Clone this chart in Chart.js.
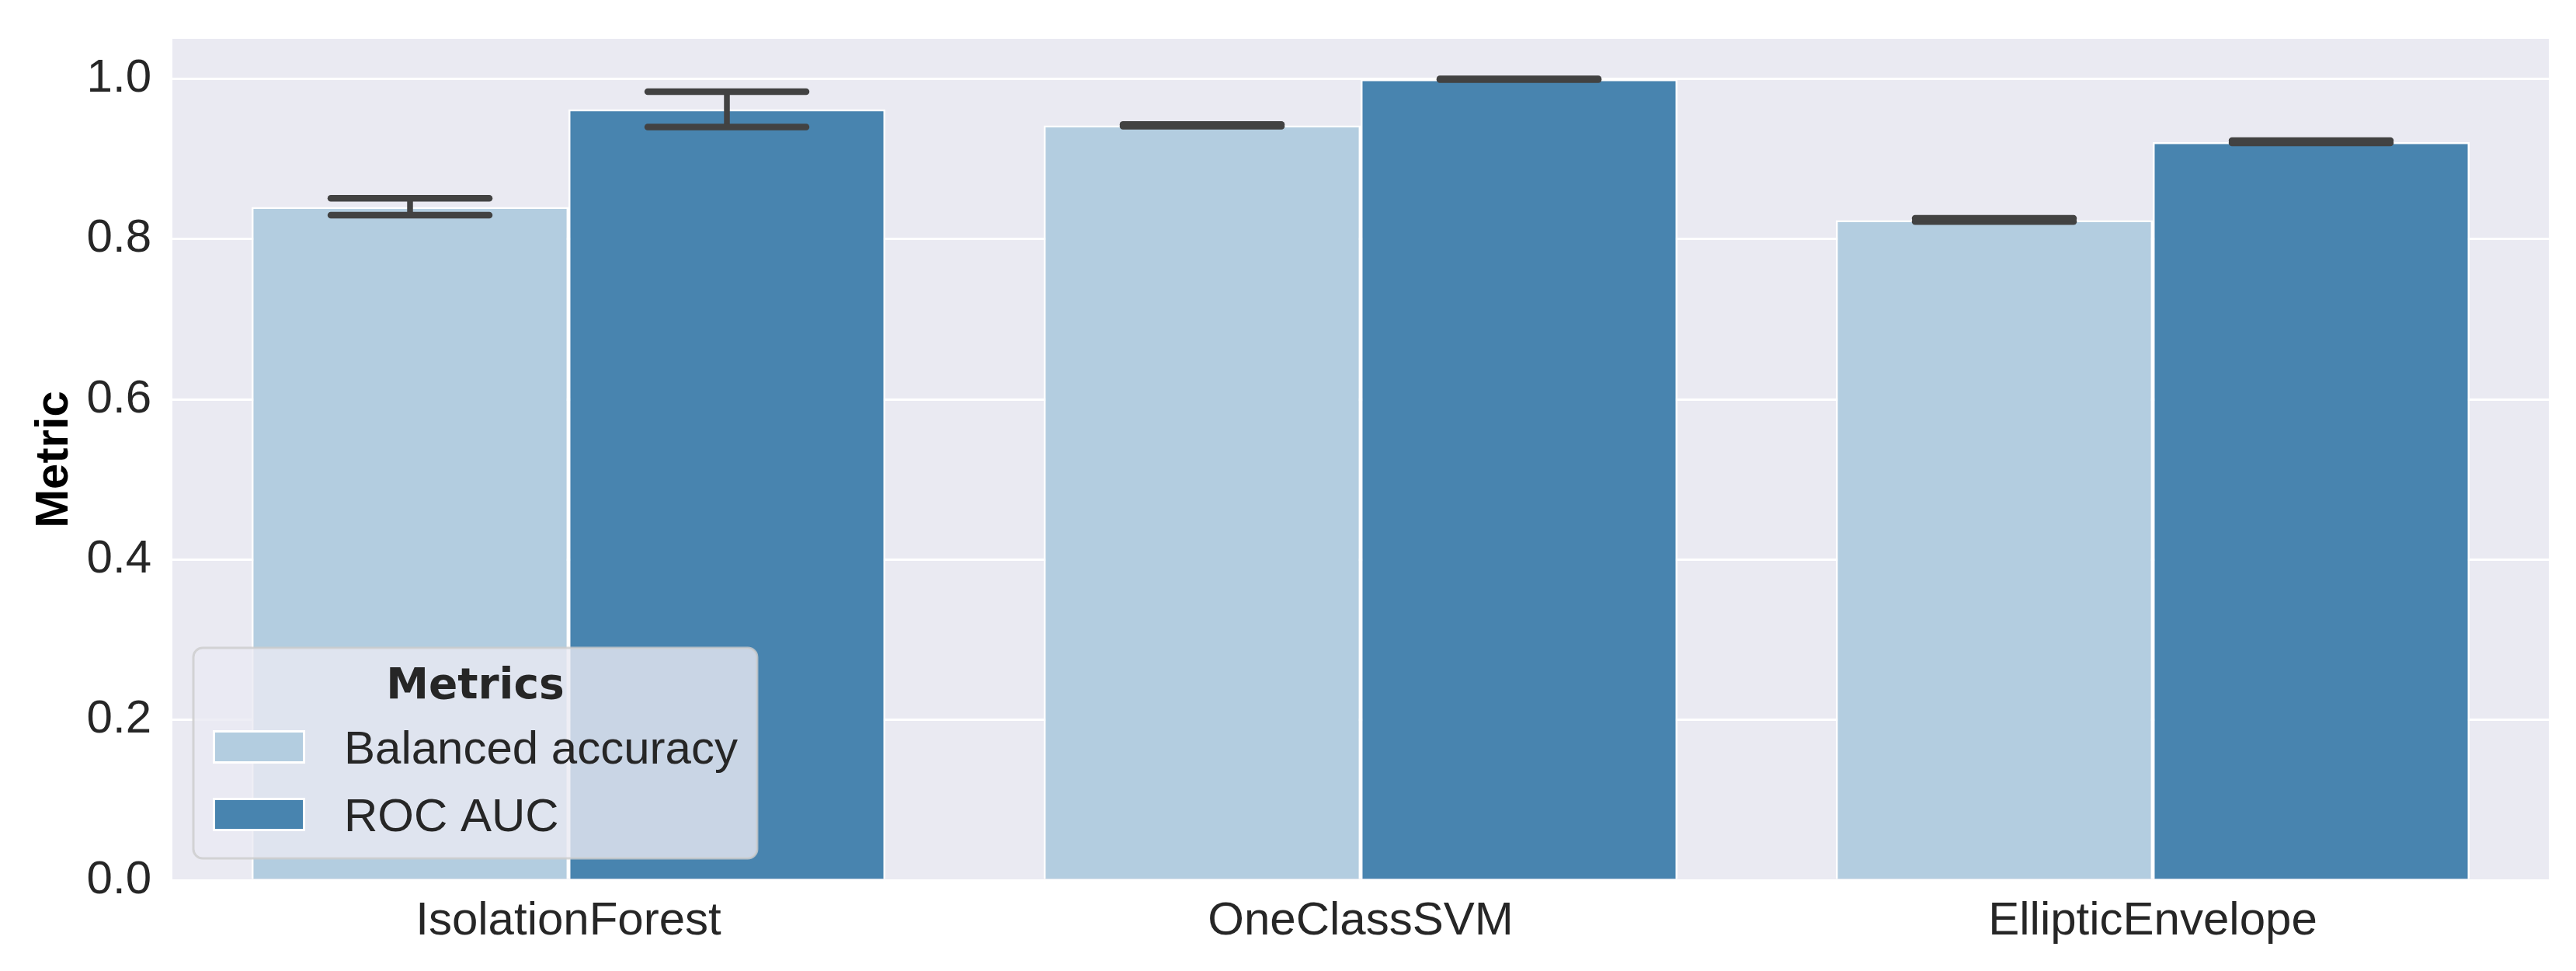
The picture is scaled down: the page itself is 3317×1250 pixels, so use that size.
<!DOCTYPE html>
<html>
<head>
<meta charset="utf-8">
<script src="https://cdn.jsdelivr.net/npm/chart.js@4.4.1/dist/chart.umd.min.js"></script>
<style>
  html, body { margin: 0; padding: 0; background: #ffffff; }
  #wrap { width: 3317px; height: 1250px; }
</style>
</head>
<body>
<div id="wrap"><canvas id="c" width="3317" height="1250"></canvas></div>
<script>
// ---- data ----
const categories = ['IsolationForest', 'OneClassSVM', 'EllipticEnvelope'];
const seriesNames = ['Balanced accuracy', 'ROC AUC'];
const balancedAccuracy = [0.840, 0.942, 0.8235];
const balancedAccuracyLow = [0.830, 0.941, 0.822];
const balancedAccuracyHigh = [0.851, 0.943, 0.826];
const rocAuc = [0.962, 0.9995, 0.921];
const rocAucLow = [0.940, 0.999, 0.920];
const rocAucHigh = [0.984, 1.000, 0.923];
const yTicks = [0.0, 0.2, 0.4, 0.6, 0.8, 1.0];
const yAxisTitle = 'Metric';
const legendTitle = 'Metrics';

const errLow = [balancedAccuracyLow, rocAucLow];
const errHigh = [balancedAccuracyHigh, rocAucHigh];

const plotBg = {
  id: 'plotBg',
  beforeDraw(chart) {
    const a = chart.chartArea, ctx = chart.ctx;
    ctx.save();
    ctx.fillStyle = '#EAEAF2';
    ctx.fillRect(a.left, a.top, a.right - a.left, a.bottom - a.top);
    ctx.restore();
  }
};

const errorBars = {
  id: 'errorBars',
  afterDatasetsDraw(chart) {
    const ctx = chart.ctx, ys = chart.scales.y;
    ctx.save();
    ctx.strokeStyle = '#424242';
    chart.data.datasets.forEach((ds, di) => {
      const meta = chart.getDatasetMeta(di);
      meta.data.forEach((bar, i) => {
        const x = bar.x;
        const yl = ys.getPixelForValue(errLow[di][i]);
        const yh = ys.getPixelForValue(errHigh[di][i]);
        const half = bar.width * 0.25;
        ctx.lineWidth = 7.5;
        ctx.lineCap = 'butt';
        ctx.beginPath(); ctx.moveTo(x, yl); ctx.lineTo(x, yh); ctx.stroke();
        ctx.lineWidth = 8.5;
        ctx.lineCap = 'round';
        ctx.beginPath(); ctx.moveTo(x - half, yl); ctx.lineTo(x + half, yl); ctx.stroke();
        ctx.beginPath(); ctx.moveTo(x - half, yh); ctx.lineTo(x + half, yh); ctx.stroke();
      });
    });
    ctx.restore();
  }
};

function roundRect(ctx, x, y, w, h, r) {
  ctx.beginPath();
  ctx.moveTo(x + r, y);
  ctx.lineTo(x + w - r, y);
  ctx.arcTo(x + w, y, x + w, y + r, r);
  ctx.lineTo(x + w, y + h - r);
  ctx.arcTo(x + w, y + h, x + w - r, y + h, r);
  ctx.lineTo(x + r, y + h);
  ctx.arcTo(x, y + h, x, y + h - r, r);
  ctx.lineTo(x, y + r);
  ctx.arcTo(x, y, x + r, y, r);
  ctx.closePath();
}

const legendBox = {
  id: 'legendBox',
  afterDatasetsDraw(chart) {
    const ctx = chart.ctx, a = chart.chartArea;
    ctx.save();
    const itemFont = '60px "Liberation Sans", Arial, sans-serif';
    const titleFont = 'bold 55px "DejaVu Sans", sans-serif';
    ctx.font = itemFont;
    const textW = Math.max(...chart.data.datasets.map(d => ctx.measureText(d.label).width));
    const padX = 25, swW = 119, swH = 43, gap = 50;
    const w = padX + swW + gap + textW + padX;
    const h = 271;
    const x = a.left + 27, y = a.bottom - 28 - h;
    roundRect(ctx, x, y, w, h, 12);
    ctx.fillStyle = 'rgba(234,234,242,0.8)';
    ctx.fill();
    ctx.lineWidth = 3;
    ctx.strokeStyle = 'rgba(204,204,204,0.8)';
    ctx.stroke();
    ctx.fillStyle = '#262626';
    ctx.font = titleFont;
    ctx.textAlign = 'center';
    ctx.textBaseline = 'alphabetic';
    ctx.fillText(legendTitle, x + w / 2, y + 65);
    chart.data.datasets.forEach((ds, i) => {
      const cy = y + 127.5 + i * 87;
      const sx = x + padX;
      ctx.fillStyle = '#ffffff';
      ctx.fillRect(sx, cy - swH / 2, swW, swH);
      ctx.fillStyle = ds.backgroundColor;
      ctx.fillRect(sx + 3, cy - swH / 2 + 3, swW - 6, swH - 6);
      ctx.fillStyle = '#262626';
      ctx.font = itemFont;
      ctx.textAlign = 'left';
      ctx.textBaseline = 'alphabetic';
      ctx.fillText(ds.label, sx + swW + gap, cy + 21.5);
    });
    ctx.restore();
  }
};

new Chart(document.getElementById('c'), {
  type: 'bar',
  data: {
    labels: categories,
    datasets: [
      { label: seriesNames[0], data: balancedAccuracy, backgroundColor: '#B3CDE0',
        borderColor: '#ffffff', borderWidth: 2.5, borderSkipped: 'bottom',
        categoryPercentage: 0.8, barPercentage: 1.0 },
      { label: seriesNames[1], data: rocAuc, backgroundColor: '#4884AF',
        borderColor: '#ffffff', borderWidth: 2.5, borderSkipped: 'bottom',
        categoryPercentage: 0.8, barPercentage: 1.0 }
    ]
  },
  options: {
    responsive: false,
    devicePixelRatio: 1,
    animation: false,
    layout: { padding: { top: 50, right: 35, left: 0, bottom: 0 } },
    plugins: { legend: { display: false }, tooltip: { enabled: false } },
    scales: {
      x: {
        grid: { display: false },
        border: { display: false },
        ticks: { color: '#262626', font: { family: '"Liberation Sans", Arial, sans-serif', size: 60 }, padding: 9, maxRotation: 0 },
        afterFit(s) { s.height = 117; s.paddingLeft = 0; s.paddingRight = 0; }
      },
      y: {
        min: 0, max: 1.05,
        grid: { color: '#ffffff', lineWidth: 3, drawTicks: false },
        border: { display: false },
        ticks: { color: '#262626', font: { family: '"Liberation Sans", Arial, sans-serif', size: 60 }, padding: 27,
                 callback: v => Number(v).toFixed(1) },
        afterBuildTicks(s) { s.ticks = yTicks.map(v => ({ value: v })); },
        title: { display: true, text: yAxisTitle, color: '#000000',
                 font: { family: '"Liberation Sans", Arial, sans-serif', size: 60, weight: 'bold' },
                 padding: { top: 34, bottom: 0 } },
        afterFit(s) { s.width = 222; s.paddingTop = 0; s.paddingBottom = 0; }
      }
    }
  },
  plugins: [plotBg, errorBars, legendBox]
});
</script>
</body>
</html>
